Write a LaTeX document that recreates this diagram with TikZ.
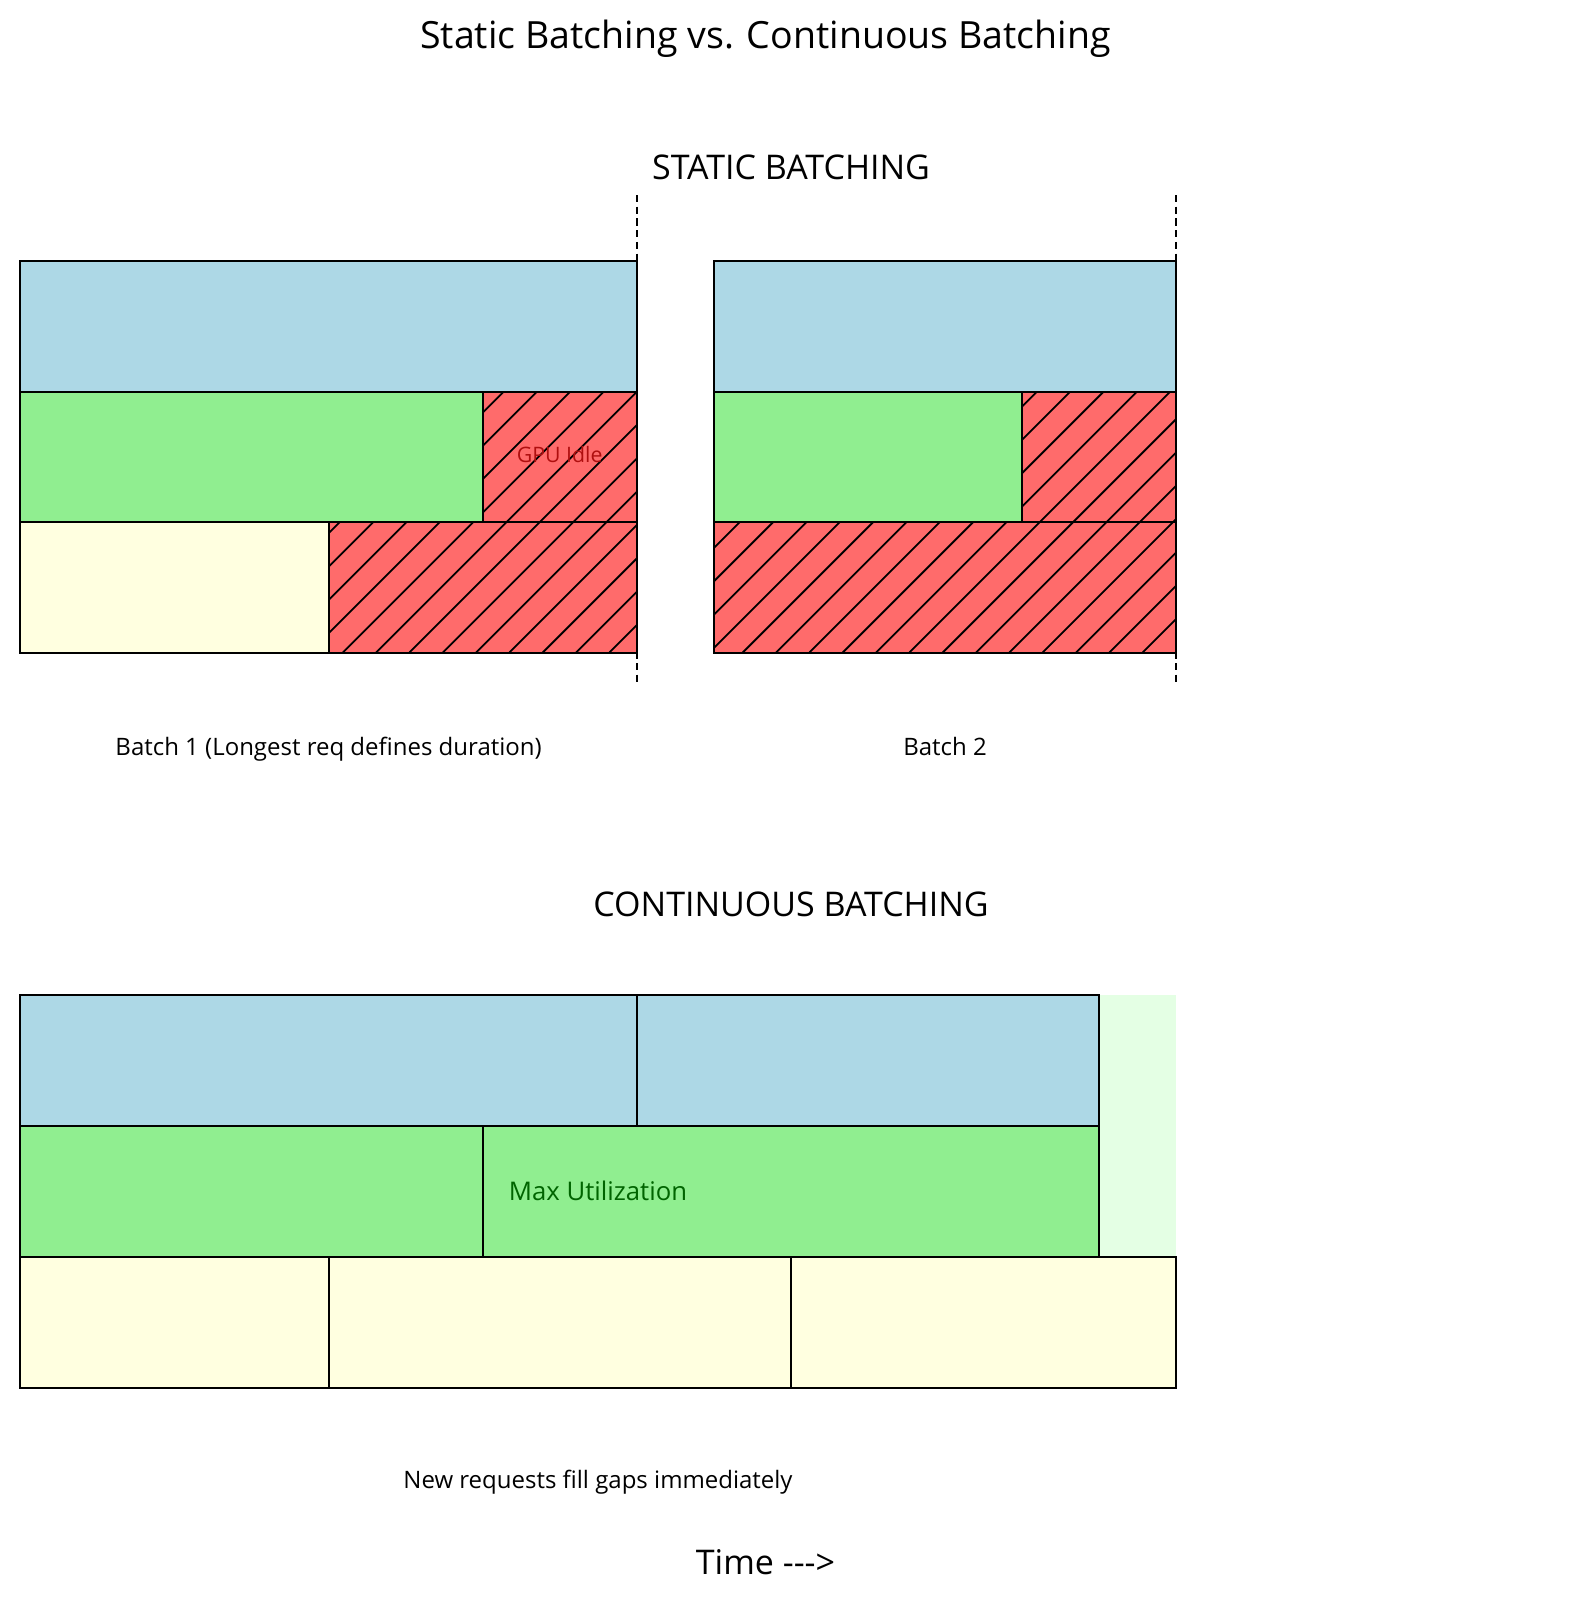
\documentclass[tikz,border=0pt]{standalone}
\usepackage{fontspec}
\setmainfont{Open Sans}
\definecolor{reqblue}{RGB}{173,216,230}
\definecolor{reqgreen}{RGB}{144,238,144}
\definecolor{reqyellow}{RGB}{255,255,224}
\definecolor{idle}{RGB}{255,107,107}
\definecolor{spare}{RGB}{228,255,228}
\definecolor{idletext}{RGB}{175,15,15}
\definecolor{utiltext}{RGB}{0,100,0}

% request bar: x0, y0, x1, y1, colour
\newcommand{\reqbar}[5]{\draw[edge, fill=#5] (#1,#2) rectangle (#3,#4);}
% idle slot with hatching: x0, y0, x1, y1
\newcommand{\idlebar}[4]{%
  \fill[idle] (#1,#2) rectangle (#3,#4);
  \begin{scope}
    \clip (#1,#2) rectangle (#3,#4);
    \foreach \k in {24,...,56}
      \draw[hatch] ({28.7+33.33*\k-(#2)},#2) -- ({28.7+33.33*\k-(#4)},#4);
  \end{scope}
  \draw[edge] (#1,#2) rectangle (#3,#4);}

\begin{document}
\begin{tikzpicture}[x=1pt, y=-1pt,
    edge/.style={line width=2pt, black},
    hatch/.style={line width=1.8pt, black},
    batchend/.style={line width=2pt, dash pattern=on 7.3pt off 4.4pt},
    bigtitle/.style={font=\fontsize{37.5}{44}\selectfont},
    head/.style={font=\fontsize{34}{40}\selectfont},
    note/.style={font=\fontsize{24}{29}\selectfont}]
  \useasboundingbox (0,0) rectangle (1583,1600);
  \node[bigtitle] (title) at (765.5,39) {Static Batching vs. Continuous Batching};

  % static batching
  \node[head] (statichead) at (791,167) {STATIC BATCHING};
  \draw[batchend] (636.8,195) -- (636.8,686);
  \draw[batchend] (1176.2,195) -- (1176.2,686);
  % batch 1
  \reqbar{20.4}{261}{636.8}{391.5}{reqblue}
  \reqbar{20.4}{391.5}{482.7}{522}{reqgreen}
  \idlebar{482.7}{391.5}{636.8}{522}
  \reqbar{20.4}{522}{328.6}{652.5}{reqyellow}
  \idlebar{328.6}{522}{636.8}{652.5}
  % batch 2
  \reqbar{713.9}{261}{1176.2}{391.5}{reqblue}
  \reqbar{713.9}{391.5}{1022.1}{522}{reqgreen}
  \idlebar{1022.1}{391.5}{1176.2}{522}
  \idlebar{713.9}{522}{1176.2}{652.5}
  \node[note, text=idletext, font=\fontsize{21.3}{26}\selectfont] (idle) at (559.7,455) {GPU Idle};
  \node[note] (batchone) at (328.6,749) {Batch 1 (Longest req defines duration)};
  \node[note] (batchtwo) at (945,746) {Batch 2};

  % continuous batching
  \node[head] (conthead) at (791,904) {CONTINUOUS BATCHING};
  \fill[spare] (1099.1,995) rectangle (1176.2,1257);
  \reqbar{20.4}{995}{636.8}{1126}{reqblue}
  \reqbar{636.8}{995}{1099.1}{1126}{reqblue}
  \reqbar{20.4}{1126}{482.7}{1257}{reqgreen}
  \reqbar{482.7}{1126}{1099.1}{1257}{reqgreen}
  \reqbar{20.4}{1257}{328.6}{1388}{reqyellow}
  \reqbar{328.6}{1257}{790.9}{1388}{reqyellow}
  \reqbar{790.9}{1257}{1176.2}{1388}{reqyellow}
  \node[note, text=utiltext, font=\fontsize{25.7}{31}\selectfont] (util) at (598,1191) {Max Utilization};
  \node[note] (fill) at (598,1482) {New requests fill gaps immediately};

  \node[head] (time) at (765.5,1562) {Time {-}{-}{-}>};
\end{tikzpicture}
\end{document}
